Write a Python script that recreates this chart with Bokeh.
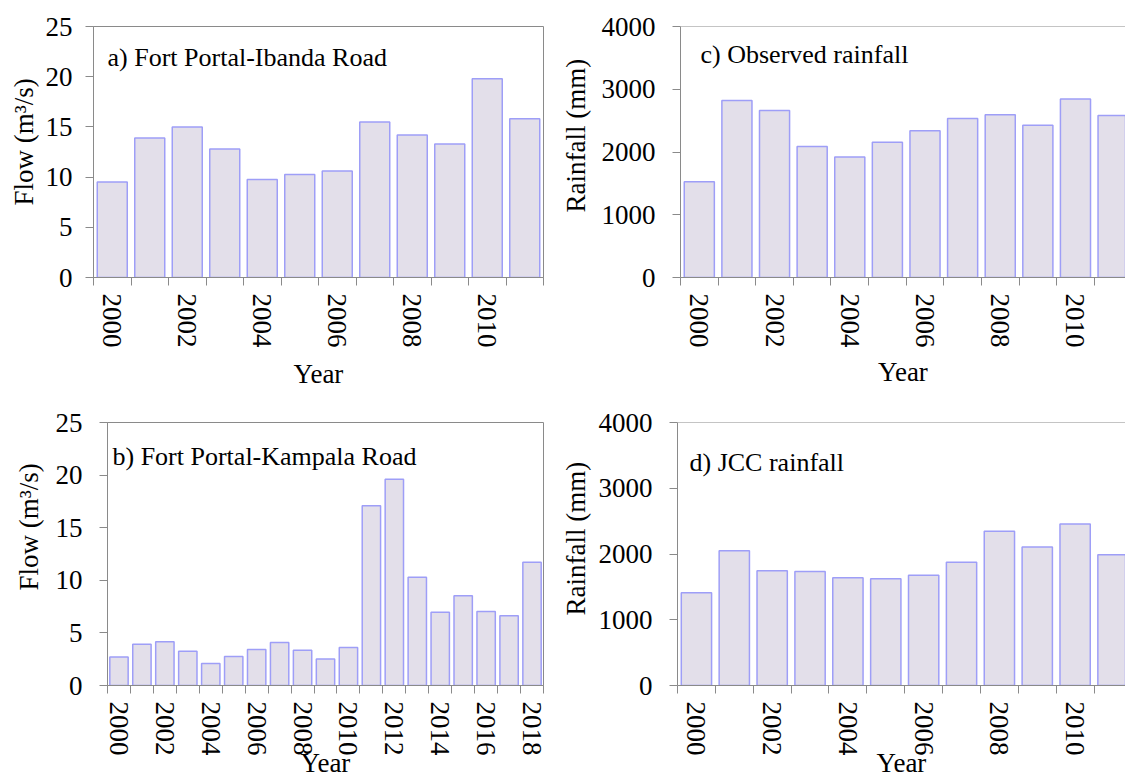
import math

from bokeh.plotting import figure
from bokeh.layouts import column, row
from bokeh.models import FixedTicker, Label, Span, Range1d, ColumnDataSource, Title
from bokeh.embed import file_html
from bokeh.resources import INLINE

# Annual series
years_short = [2000, 2001, 2002, 2003, 2004, 2005, 2006, 2007, 2008, 2009, 2010, 2011]
years_long = [2000, 2001, 2002, 2003, 2004, 2005, 2006, 2007, 2008, 2009,
              2010, 2011, 2012, 2013, 2014, 2015, 2016, 2017, 2018]

flow_ibanda = [9.5, 13.9, 15.0, 12.8, 9.75, 10.25, 10.6, 15.5, 14.2, 13.3, 19.8, 15.8]
flow_kampala = [2.72, 3.93, 4.15, 3.26, 2.09, 2.76, 3.42, 4.09, 3.36, 2.53,
                3.61, 17.08, 19.61, 10.3, 6.97, 8.52, 7.03, 6.62, 11.72]
rain_observed = [1525, 2820, 2663, 2089, 1922, 2157, 2339, 2533, 2595, 2428, 2846, 2580]
rain_jcc = [1412, 2048, 1745, 1735, 1639, 1624, 1675, 1876, 2345, 2108, 2456, 1987]

flow_ticks = [0, 5, 10, 15, 20, 25]
rain_ticks = [0, 1000, 2000, 3000, 4000]
labels_short = [2000, 2002, 2004, 2006, 2008, 2010]
labels_long = [2000, 2002, 2004, 2006, 2008, 2010, 2012, 2014, 2016, 2018]

FONT = "Liberation Serif"
GREY = "#8a8a8a"
FILL = "#E3DFEA"
EDGE = "#9E9EF7"


def panel(years, values, yticks, xlabels, ylabel, title, width, height,
          border, x_span, tick_std, title_pos, ylab_std, ylab_shift, xlab_std,
          show_right):
    ymax = yticks[-1]
    left, right, top, bottom = border
    x0 = years[0] - 0.5
    p = figure(width=width, height=height, output_backend="svg",
               toolbar_location=None, tools="",
               x_range=Range1d(x0, x0 + x_span), y_range=Range1d(0, ymax),
               min_border_left=left, min_border_right=right,
               min_border_top=top, min_border_bottom=bottom)
    p.background_fill_color = "white"
    p.border_fill_color = "white"
    p.xgrid.visible = False
    p.ygrid.visible = False
    if show_right:
        p.outline_line_color = GREY
    else:
        p.outline_line_color = None
        p.add_layout(Span(location=ymax, dimension="width",
                          line_color=GREY, line_width=1))

    src = ColumnDataSource(dict(year=years, value=values))
    p.vbar(x="year", top="value", width=0.8, bottom=0, source=src,
           fill_color=FILL, line_color=EDGE, line_width=1.5)

    # x axis: tick marks between the bars, year labels under every other bar
    xa = p.xaxis[0]
    xa.ticker = FixedTicker(ticks=xlabels,
                            minor_ticks=[y - 0.5 for y in years] + [years[-1] + 0.5])
    xa.major_tick_line_color = None
    xa.major_tick_out = 8
    xa.major_tick_in = 0
    xa.minor_tick_line_color = GREY
    xa.minor_tick_out = 8
    xa.minor_tick_in = 0
    xa.major_label_orientation = "vertical"
    xa.major_label_standoff = 8
    xa.axis_label = "Year"
    xa.axis_label_standoff = xlab_std
    xa.axis_label_text_font = FONT
    xa.axis_label_text_font_size = "27px"
    xa.axis_label_text_font_style = "normal"
    xa.axis_label_text_color = "black"

    ya = p.yaxis[0]
    ya.ticker = FixedTicker(ticks=yticks, minor_ticks=[])
    ya.major_tick_line_color = GREY
    ya.major_tick_out = 8
    ya.major_tick_in = 0
    ya.minor_tick_line_color = None
    ya.major_label_standoff = tick_std

    for ax in (xa, ya):
        ax.axis_line_color = GREY
        ax.axis_line_width = 1
        ax.major_label_text_font = FONT
        ax.major_label_text_font_size = "27px"
        ax.major_label_text_color = "black"

    # vertical axis title, starting a fixed distance above the frame bottom
    p.add_layout(Title(text=ylabel, align="left", offset=ylab_shift,
                       standoff=ylab_std, text_font=FONT, text_font_size="27px",
                       text_font_style="normal", text_color="black"), "left")

    # panel caption inside the top-left corner of the frame
    p.add_layout(Label(x=title_pos[0], y=title_pos[1], x_units="screen",
                       y_units="screen", text=title, text_font=FONT,
                       text_font_size="26px", text_color="black",
                       text_baseline="alphabetic"))
    return p


pa = panel(years_short, flow_ibanda, flow_ticks, labels_short, "Flow (m³/s)",
           "a) Fort Portal-Ibanda Road", 550, 400, (93, 7, 26, 123), 12.0,
           13, (14, 220), 7, 72, 8, True)
pc = panel(years_short, rain_observed, rain_ticks, labels_short, "Rainfall (mm)",
           "c) Observed rainfall", 575, 400, (129, 0, 26, 119), 11.83,
           17, (20, 223), 16, 65, 6, False)
pb = panel(years_long, flow_kampala, flow_ticks, labels_long, "Flow (m³/s)",
           "b) Fort Portal-Kampala Road", 550, 380, (107, 7, 22, 94), 19.0,
           17, (5, 229), 18, 95, -11, True)
pd_ = panel(years_short, rain_jcc, rain_ticks, labels_short, "Rainfall (mm)",
            "d) JCC rainfall", 575, 380, (127, 0, 22, 93), 11.83,
            17, (12, 223), 9, 70, -11, False)

layout = column(row(pa, pc), row(pb, pd_))
open("out.html", "w").write(file_html(layout, INLINE))
